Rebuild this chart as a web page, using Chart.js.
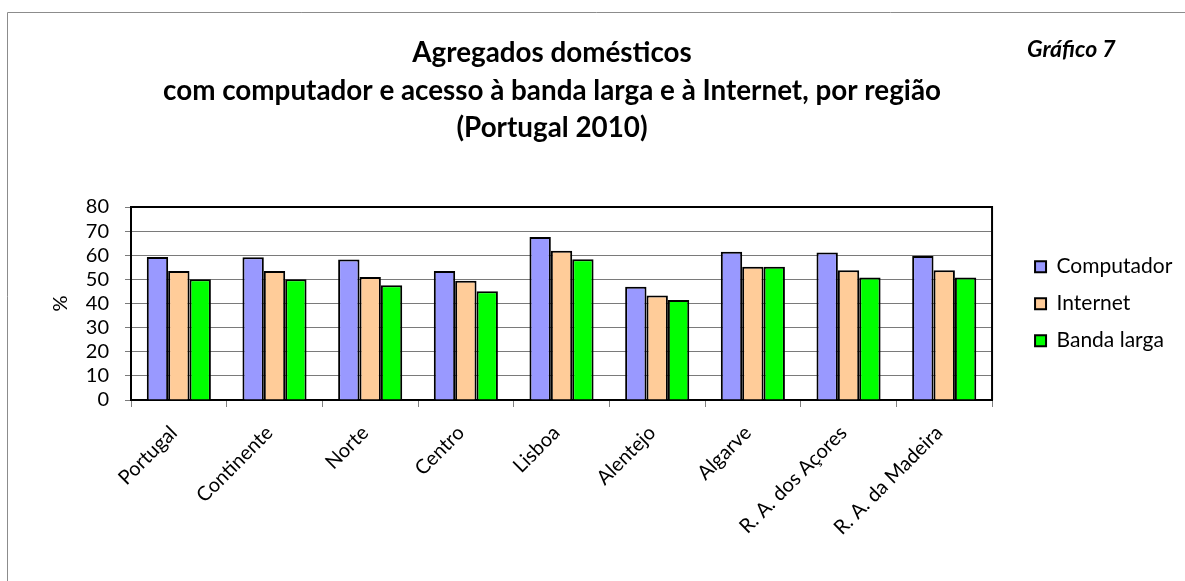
<!DOCTYPE html>
<html>
<head>
<meta charset="utf-8">
<script src="https://cdn.jsdelivr.net/npm/chart.js@4.4.0/dist/chart.umd.min.js"></script>
<style>
  html, body { margin: 0; padding: 0; background: #ffffff; }
  #c { display: block; }
</style>
</head>
<body>
<canvas id="c" width="1185" height="581"></canvas>
<script>
const categories = ['Portugal', 'Continente', 'Norte', 'Centro', 'Lisboa', 'Alentejo', 'Algarve', 'R. A. dos Açores', 'R. A. da Madeira'];
const computador = [59.3, 59.2, 58.2, 53.5, 67.6, 46.9, 61.5, 61.1, 59.7];
const internet   = [53.5, 53.5, 51.0, 49.4, 61.9, 43.3, 55.2, 53.8, 53.8];
const bandaLarga = [50.1, 50.1, 47.6, 45.1, 58.3, 41.5, 55.2, 50.8, 50.8];
const seriesNames = ['Computador', 'Internet', 'Banda larga'];
const yTicks = [0, 10, 20, 30, 40, 50, 60, 70, 80];
const titleLines = ['Agregados domésticos', 'com computador e acesso à banda larga e à Internet, por região', '(Portugal 2010)'];
const cornerLabel = 'Gráfico 7';
const axisTitle = '%';

const FONT = 'Lato, "Open Sans", sans-serif';

const decor = {
  id: 'decor',
  afterDraw(chart) {
    const ctx = chart.ctx;
    const a = chart.chartArea;
    ctx.save();
    ctx.strokeStyle = '#8c8c8c';
    ctx.lineWidth = 1;
    ctx.beginPath();
    ctx.moveTo(7.5, 581);
    ctx.lineTo(7.5, 12.5);
    ctx.lineTo(1185, 12.5);
    ctx.stroke();
    ctx.strokeStyle = '#000';
    ctx.lineWidth = 2;
    ctx.beginPath();
    ctx.moveTo(a.left, a.top);
    ctx.lineTo(a.right, a.top);
    ctx.lineTo(a.right, a.bottom);
    ctx.stroke();
    ctx.fillStyle = '#000';
    ctx.textAlign = 'center';
    ctx.textBaseline = 'middle';
    ctx.font = 'bold 27.8px ' + FONT;
    const ys = [53, 91, 128];
    titleLines.forEach((t, i) => ctx.fillText(t, 552, ys[i]));
    ctx.font = 'italic bold 23px ' + FONT;
    ctx.textAlign = 'left';
    ctx.fillText(cornerLabel, 1027, 50);
    ctx.restore();
  }
};

new Chart(document.getElementById('c'), {
  type: 'bar',
  data: {
    labels: categories,
    datasets: [
      { label: seriesNames[0], data: computador, backgroundColor: '#9999FF', borderColor: '#000', borderWidth: 2 },
      { label: seriesNames[1], data: internet, backgroundColor: '#FFCC99', borderColor: '#000', borderWidth: 2 },
      { label: seriesNames[2], data: bandaLarga, backgroundColor: '#00FF00', borderColor: '#000', borderWidth: 2 }
    ]
  },
  options: {
    responsive: false,
    devicePixelRatio: 1,
    animation: false,
    datasets: { bar: { categoryPercentage: 0.67, barPercentage: 1.0 } },
    layout: { padding: { top: 207, left: 45, right: 2.7, bottom: 0 } },
    scales: {
      x: {
        grid: { offset: true, drawOnChartArea: false, drawTicks: true, tickLength: 7, color: '#808080' },
        border: { color: '#000', width: 2 },
        ticks: { minRotation: 45, maxRotation: 45, color: '#000', font: { family: FONT, size: 20 }, padding: 14, labelOffset: -5, autoSkip: false },
        afterFit(s) { s.height = 181; }
      },
      y: {
        min: yTicks[0],
        max: yTicks[yTicks.length - 1],
        afterBuildTicks(s) { s.ticks = yTicks.map(v => ({ value: v })); },
        grid: { color: '#7a7a7a', tickLength: 6 },
        border: { color: '#000', width: 2 },
        ticks: { color: '#000', font: { family: FONT, size: 20 }, padding: 16, autoSkip: false },
        title: { display: true, text: axisTitle, color: '#000', font: { family: FONT, size: 20 } },
        afterFit(s) { s.width = 86; }
      },
      y2: {
        type: 'linear',
        position: 'right',
        display: true,
        grid: { display: false, drawTicks: false },
        border: { display: false },
        ticks: { display: false },
        afterFit(s) { s.width = 27; }
      }
    },
    plugins: {
      title: { display: false },
      tooltip: { enabled: false },
      legend: {
        position: 'right',
        align: 'start',
        title: { display: true, text: ' ', font: { size: 1 }, padding: { top: 0, bottom: 32 } },
        labels: { boxWidth: 11, boxHeight: 11, padding: 16, color: '#000', font: { family: FONT, size: 21 } }
      }
    }
  },
  plugins: [decor]
});
</script>
</body>
</html>
